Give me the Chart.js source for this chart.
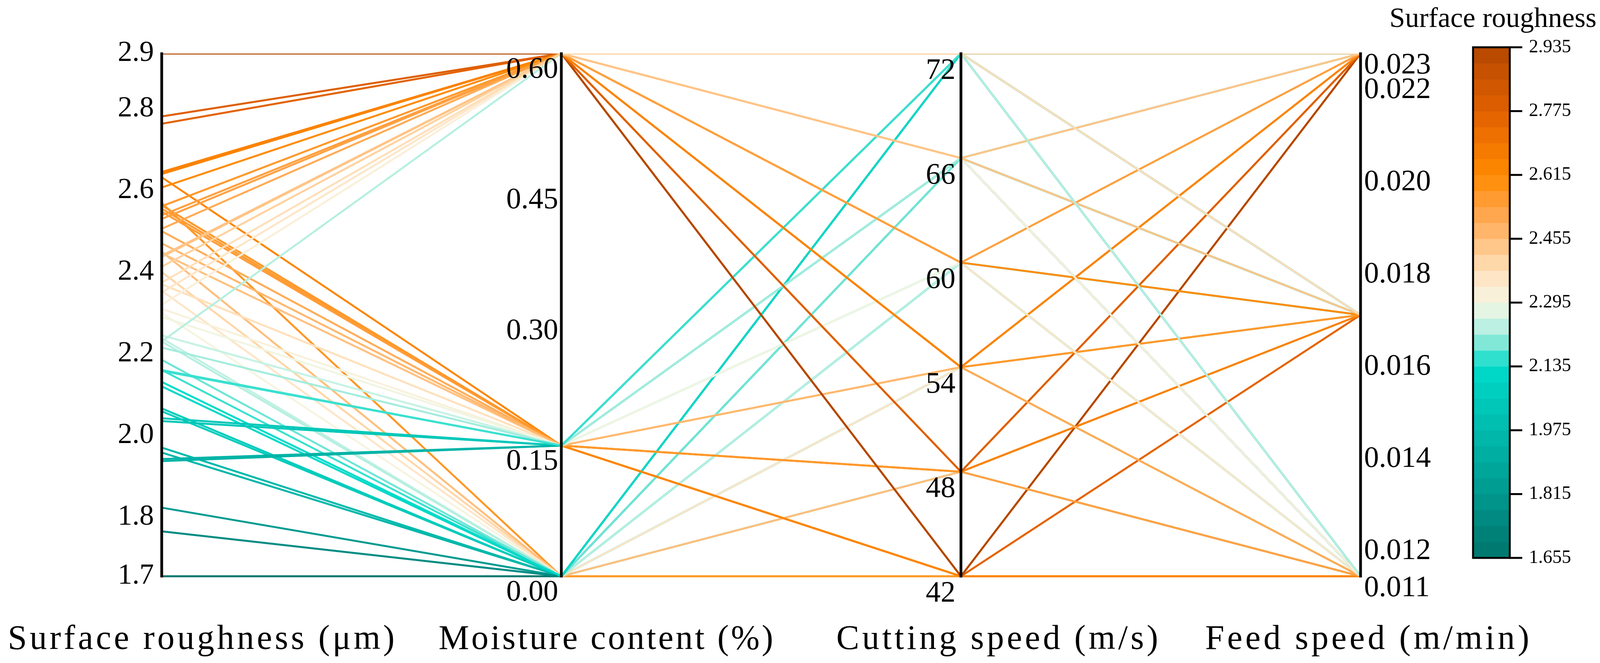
<!DOCTYPE html>
<html>
<head>
<meta charset="utf-8">
<title>Surface roughness - parallel coordinates</title>
<script src="https://cdn.jsdelivr.net/npm/chart.js@4.4.1/dist/chart.umd.min.js"></script>
<style>
  html, body { margin: 0; padding: 0; background: #ffffff; }
  #wrap { width: 4144px; height: 1697px; }
</style>
</head>
<body>
<div id="wrap"><canvas id="parallelChart" width="4144" height="1697"></canvas></div>
<script>
// Axis titles
const axisTitles = ['Surface roughness (μm)', 'Moisture content (%)', 'Cutting speed (m/s)', 'Feed speed (m/min)'];
const colorbarTitle = 'Surface roughness';

// Factor levels
const moistureLevels = [0, 0.15, 0.60];
const speedLevels = [42, 48, 54, 60, 66, 72];
const feedLevels = [0.01133, 0.017, 0.02267];

// Roughness per moisture level, ordered speed 42..72, feed low..high
const roughM0 = [2.300, 2.400, 2.569, 2.160, 2.238, 2.450, 2.066, 2.131, 2.354,
                 1.970, 2.059, 2.230, 1.823, 1.958, 2.185, 1.655, 1.765, 2.120];
const roughM15 = [2.500, 2.555, 2.632, 2.446, 2.548, 2.563, 2.310, 2.370, 2.470,
                  2.158, 2.245, 2.290, 2.035, 2.042, 2.215, 1.937, 1.942, 2.160];
const roughM60 = [2.640, 2.763, 2.935, 2.530, 2.645, 2.781, 2.506, 2.561, 2.643,
                  2.350, 2.607, 2.539, 2.320, 2.437, 2.440, 2.230, 2.374, 2.413];

// Tick labels between the end values of each axis
const roughnessTicks = [2.8, 2.6, 2.4, 2.2, 2.0, 1.8];
const moistureTicks = [0.45, 0.30, 0.15];
const speedTicks = [66, 60, 54, 48];
const feedTicks = [0.022, 0.020, 0.018, 0.016, 0.014, 0.012];
const colorbarTicks = [2.935, 2.775, 2.615, 2.455, 2.295, 2.135, 1.975, 1.815, 1.655];

// Colour map (teal -> cream -> orange -> brown)
const mapStops = [1.655, 1.735, 1.815, 1.895, 1.975, 2.055, 2.135, 2.175, 2.215, 2.255, 2.295,
                  2.335, 2.375, 2.415, 2.455, 2.535, 2.615, 2.695, 2.775, 2.855, 2.935];
const mapColors = ['#00766c', '#00857c', '#00998f', '#00aa9e', '#00bbad', '#00cbbb', '#00dccb',
                   '#5ee3d3', '#a3ecdd', '#d3f4e6', '#f5f5e0', '#fdebd4', '#ffdfb8', '#ffd09c',
                   '#ffbd78', '#ffa040', '#ff8a00', '#f27500', '#e06000', '#cc5400', '#b34700'];

function hexToRgb(h) {
    return [parseInt(h.substr(1, 2), 16), parseInt(h.substr(3, 2), 16), parseInt(h.substr(5, 2), 16)];
}

function roughColor(v) {
    if (v <= mapStops[0]) return mapColors[0];
    for (let i = 1; i < mapStops.length; i++) {
        if (v <= mapStops[i]) {
            const t = (v - mapStops[i - 1]) / (mapStops[i] - mapStops[i - 1]);
            const a = hexToRgb(mapColors[i - 1]);
            const b = hexToRgb(mapColors[i]);
            const c = a.map(function (x, k) { return Math.round(x + (b[k] - x) * t); });
            return 'rgb(' + c.join(',') + ')';
        }
    }
    return mapColors[mapColors.length - 1];
}

// Build one row per run: [roughness, moisture, speed, feed]
const roughByMoisture = [roughM0, roughM15, roughM60];
const rows = [];
moistureLevels.forEach(function (m, i) {
    speedLevels.forEach(function (s, j) {
        feedLevels.forEach(function (f, k) {
            rows.push([roughByMoisture[i][j * 3 + k], m, s, f]);
        });
    });
});

// Each axis runs from data min to data max
const ranges = [0, 1, 2, 3].map(function (a) {
    const vals = rows.map(function (r) { return r[a]; });
    return { min: Math.min.apply(null, vals), max: Math.max.apply(null, vals) };
});

function norm(a, v) {
    return (v - ranges[a].min) / (ranges[a].max - ranges[a].min);
}

// Later rows were drawn on top in the original, so reverse (dataset 0 is drawn last)
const datasets = rows.map(function (r) {
    return {
        data: r.map(function (v, a) { return norm(a, v); }),
        borderColor: roughColor(r[0]),
        borderWidth: 5,
        pointRadius: 0,
        tension: 0,
        fill: false,
        clip: { left: 5, right: 5, top: 0, bottom: 5 }
    };
}).reverse();

const labelFont = "'Liberation Serif', 'DejaVu Serif', serif";

const axisStyle = [
    { align: 'right', dx: -20, dy: 0, endDy: 0, digits: 1, size: 74, ticks: roughnessTicks },
    { align: 'right', dx: -8, dy: 42, endDy: 42, digits: 2, size: 76, ticks: moistureTicks },
    { align: 'right', dx: -14, dy: 45, endDy: 45, digits: 0, size: 76, ticks: speedTicks },
    { align: 'left', dx: 9, dy: 15, endDy: 31, digits: 3, size: 76, ticks: feedTicks }
];
const titleShift = [101, 114, 93, 17];
const titleWidth = [997, 862, 831, 837];

function spacedText(ctx, text, x, y, targetWidth) {
    ctx.letterSpacing = '0px';
    const w = ctx.measureText(text).width;
    const sp = Math.max(0, (targetWidth - w) / text.length);
    ctx.letterSpacing = sp + 'px';
    ctx.fillText(text, x + sp / 2, y);
    ctx.letterSpacing = '0px';
}

// Parallel axes, tick labels and titles
const parallelAxes = {
    id: 'parallelAxes',
    afterDatasetsDraw: function (chart) {
        const ctx = chart.ctx;
        const xs = chart.scales.x;
        const ys = chart.scales.y;
        ctx.save();
        axisStyle.forEach(function (st, a) {
            const x = xs.getPixelForValue(a);
            const yTop = ys.getPixelForValue(1);
            const yBot = ys.getPixelForValue(0);
            ctx.strokeStyle = '#000';
            ctx.lineWidth = 7;
            ctx.beginPath();
            ctx.moveTo(x, yTop - 3);
            ctx.lineTo(x, yBot + 3);
            ctx.stroke();

            ctx.fillStyle = '#000';
            ctx.font = st.size + 'px ' + labelFont;
            ctx.textAlign = st.align;
            ctx.textBaseline = 'middle';
            ctx.fillText(ranges[a].max.toFixed(st.digits), x + st.dx, yTop + st.endDy);
            ctx.fillText(ranges[a].min.toFixed(st.digits), x + st.dx, yBot + st.endDy);
            st.ticks.forEach(function (v) {
                ctx.fillText(v.toFixed(st.digits), x + st.dx, ys.getPixelForValue(norm(a, v)) + st.dy);
            });

            ctx.font = '88px ' + labelFont;
            ctx.textAlign = 'center';
            ctx.textBaseline = 'alphabetic';
            spacedText(ctx, axisTitles[a], x + titleShift[a], 1661, titleWidth[a]);
        });
        ctx.restore();
    }
};

// Colour bar legend on the right
const colorBar = {
    id: 'colorBar',
    afterDraw: function (chart) {
        const ctx = chart.ctx;
        const left = 3771, right = 3865, top = 121, bottom = 1428;
        const lo = ranges[0].min, hi = ranges[0].max;
        const bands = 32;
        const step = (bottom - top) / bands;
        ctx.save();
        ctx.letterSpacing = '0px';
        for (let b = 0; b < bands; b++) {
            const v = lo + (b + 0.5) * (hi - lo) / bands;
            ctx.fillStyle = roughColor(v);
            ctx.fillRect(left, bottom - (b + 1) * step - 0.5, right - left, step + 1);
        }
        ctx.strokeStyle = '#000';
        ctx.lineWidth = 5;
        ctx.strokeRect(left, top, right - left, bottom - top);

        ctx.fillStyle = '#000';
        ctx.font = '48px ' + labelFont;
        ctx.textAlign = 'left';
        ctx.textBaseline = 'middle';
        colorbarTicks.forEach(function (v) {
            const y = bottom - (v - lo) / (hi - lo) * (bottom - top);
            ctx.beginPath();
            ctx.moveTo(right, y);
            ctx.lineTo(right + 32, y);
            ctx.stroke();
            ctx.fillText(v.toFixed(3), right + 49, y);
        });

        ctx.font = '72px ' + labelFont;
        ctx.textAlign = 'center';
        ctx.textBaseline = 'alphabetic';
        ctx.fillText(colorbarTitle, 3822, 69);
        ctx.restore();
    }
};

const ctx = document.getElementById('parallelChart').getContext('2d');
const parallelChart = new Chart(ctx, {
    type: 'line',
    data: {
        labels: axisTitles,
        datasets: datasets
    },
    options: {
        responsive: false,
        animation: false,
        events: [],
        layout: {
            padding: { left: 414, right: 661, top: 137, bottom: 222 }
        },
        plugins: {
            legend: { display: false },
            tooltip: { enabled: false }
        },
        scales: {
            x: { type: 'category', display: false, offset: false },
            y: { type: 'linear', display: false, min: 0, max: 1 }
        }
    },
    plugins: [parallelAxes, colorBar]
});
</script>
</body>
</html>
